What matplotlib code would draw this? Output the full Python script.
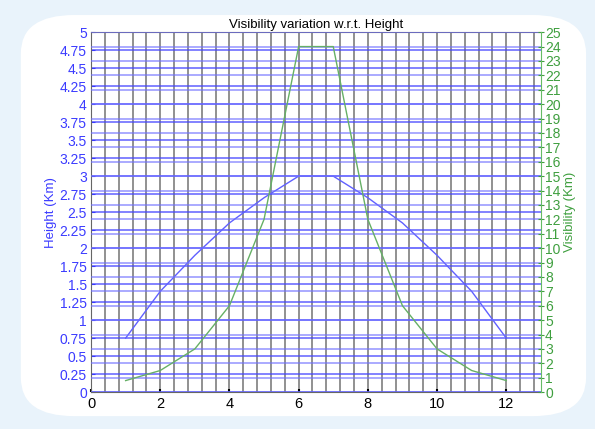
import numpy as np
import matplotlib
matplotlib.use("Agg")
import matplotlib.pyplot as plt
from matplotlib.ticker import MultipleLocator
from matplotlib.patches import FancyBboxPatch

plt.rcParams['font.family'] = ['Liberation Sans', 'DejaVu Sans']

# data
x = [1, 2, 3, 4, 5, 6, 7, 8, 9, 10, 11, 12]
height_km = [0.75, 1.4, 1.9, 2.35, 2.7, 3.0, 3.0, 2.7, 2.35, 1.9, 1.4, 0.75]
visibility_km = [0.8, 1.5, 3, 6, 12, 24, 24, 12, 6, 3, 1.5, 0.8]

blue = '#3b3bff'
green = '#3f9f3f'

fig = plt.figure(figsize=(5.95, 4.29), dpi=100)
fig.patch.set_facecolor('#e9f3fb')
panel = FancyBboxPatch((0.035, 0.03), 0.95, 0.935, boxstyle='round,pad=0,rounding_size=0.09',
                       transform=fig.transFigure, facecolor='white', edgecolor='none', zorder=-5)
fig.add_artist(panel)

ax = fig.add_axes([0.153, 0.086, 0.756, 0.839])
ax.set_zorder(1)
ax.set_facecolor('white')
ax2 = ax.twinx()
ax2.set_zorder(2)
ax2.patch.set_visible(False)

ax.set_xlim(0, 13)
ax.set_ylim(0, 5)
ax2.set_ylim(0, 25)

ax.xaxis.set_major_locator(MultipleLocator(2))
ax.xaxis.set_minor_locator(MultipleLocator(0.4))
ax2.yaxis.set_major_locator(MultipleLocator(1))

# grid: grey verticals, blue horizontals from both y axes
ax.grid(True, which='both', axis='x', color='#909090', linewidth=1.4)
ax.grid(True, which='major', axis='y', color='#4545ff', linewidth=1.1, alpha=0.85)
ax2.grid(True, which='major', axis='y', color='#7070ff', linewidth=1.1, alpha=0.75)
ax.set_axisbelow(True)
ax2.set_axisbelow(True)

ax.plot(x, height_km, color='#6060ff', linewidth=1.0, zorder=3)
ax2.plot(x, visibility_km, color='#66b066', linewidth=1.0, zorder=3)

ax.set_title('Visibility variation w.r.t. Height', fontsize=9.5, pad=3)
ax.set_ylabel('Height (Km)', color=blue, fontsize=9.5, labelpad=2)
ax2.set_ylabel('Visibility (Km)', color=green, fontsize=9.5, labelpad=2)

ax.set_yticks(np.arange(0, 5.01, 0.25))
ax.set_yticklabels(['0', '0.25', '0.5', '0.75', '1', '1.25', '1.5', '1.75', '2', '2.25', '2.5',
                    '2.75', '3', '3.25', '3.5', '3.75', '4', '4.25', '4.5', '4.75', '5'])
ax.tick_params(axis='y', colors=blue, labelsize=10, direction='in', length=3, pad=3)
ax.tick_params(axis='x', which='major', colors='black', labelsize=10.5, direction='in', length=2, width=1.5)
ax.tick_params(axis='x', which='minor', length=0)
ax2.tick_params(axis='y', colors=green, labelsize=10, direction='inout', length=4, pad=1)

for s in ['left', 'top', 'bottom']:
    ax.spines[s].set_color('#666666')
ax2.spines['left'].set_visible(False)
ax2.spines['top'].set_visible(False)
ax2.spines['bottom'].set_visible(False)
ax2.spines['right'].set_color('#66bb66')
ax.spines['right'].set_visible(False)

fig.savefig('out.png', dpi=100, facecolor=fig.get_facecolor())
